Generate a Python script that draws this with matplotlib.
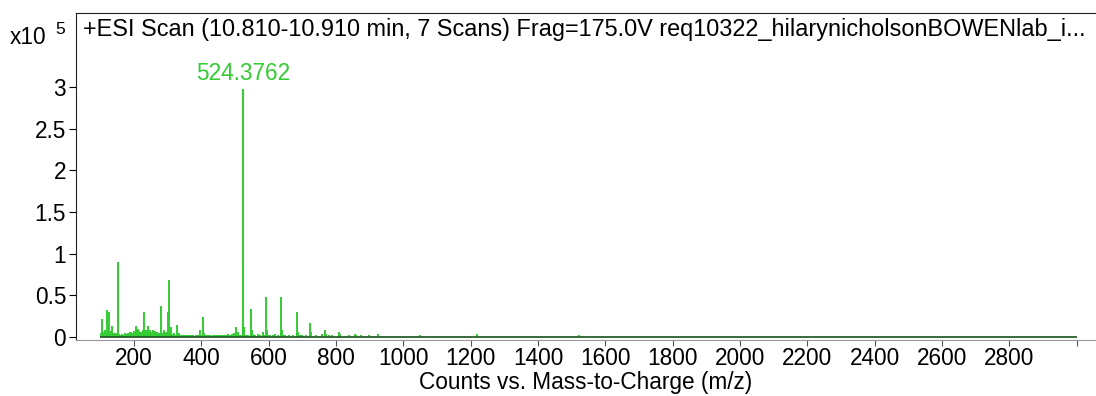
import matplotlib
matplotlib.use("Agg")
import matplotlib.pyplot as plt

plt.rcParams['font.family'] = ['Liberation Sans', 'DejaVu Sans']

# main peaks (m/z, counts x10^5)
peak_mz = [106, 113, 120.6, 125.6, 129, 133.6, 140, 151.4, 155, 175, 188,
           205.8, 212, 218, 229.6, 236, 242.4, 249, 256, 262, 270, 282, 288,
           295, 300, 304.8, 310, 318, 327.6, 335, 396, 403.8, 409, 450, 480,
           496, 503, 508, 524.3762, 525.38, 526.4, 547.4, 550, 554, 570, 582,
           592, 595, 605, 619, 636.5, 640, 650, 660, 683, 687, 700, 723, 727,
           760, 767, 771, 787, 809.6, 812, 838, 856, 860, 874, 899, 925, 1049,
           1219, 1522]
peak_int = [0.22, 0.08, 0.33, 0.30, 0.06, 0.13, 0.05, 0.90, 0.04, 0.05, 0.06,
            0.13, 0.10, 0.06, 0.30, 0.09, 0.13, 0.09, 0.08, 0.07, 0.06, 0.37, 0.08,
            0.06, 0.30, 0.68, 0.12, 0.05, 0.15, 0.05, 0.08, 0.24, 0.05, 0.03, 0.04,
            0.05, 0.12, 0.06, 2.98, 0.86, 0.12, 0.34, 0.09, 0.04, 0.04, 0.06,
            0.48, 0.09, 0.03, 0.04, 0.48, 0.09, 0.03, 0.03, 0.30, 0.06, 0.03, 0.17, 0.06,
            0.04, 0.08, 0.04, 0.02, 0.06, 0.04, 0.02, 0.04, 0.02, 0.02, 0.02, 0.04, 0.02,
            0.04, 0.02]

# low level baseline noise
noise_mz = [101, 104, 109, 116, 123, 131, 137, 144, 147, 158, 162, 166, 170,
            179, 183, 192, 197, 201, 209, 215, 222, 226, 233, 239, 245, 252,
            259, 266, 274, 278, 285, 292, 298, 307, 314, 322, 331, 339, 345,
            352, 358, 364, 370, 377, 383, 390, 400, 413, 420, 427, 434, 441,
            447, 456, 462, 469, 475, 486, 491, 514, 518, 533, 540, 560, 575,
            588, 600, 612, 628, 645, 672, 694, 710, 740, 780]
noise_int = [0.05, 0.07, 0.06, 0.08, 0.05, 0.07, 0.04, 0.03, 0.05, 0.02, 0.03, 0.04, 0.03,
             0.04, 0.05, 0.06, 0.05, 0.07, 0.08, 0.07, 0.06, 0.08, 0.07, 0.06, 0.07, 0.06,
             0.05, 0.06, 0.05, 0.04, 0.05, 0.04, 0.05, 0.04, 0.04, 0.03, 0.04, 0.03, 0.02,
             0.03, 0.02, 0.03, 0.02, 0.03, 0.02, 0.02, 0.03, 0.03, 0.02, 0.02, 0.03, 0.02,
             0.02, 0.03, 0.02, 0.03, 0.02, 0.03, 0.04, 0.02, 0.03, 0.02, 0.03, 0.02, 0.02,
             0.02, 0.02, 0.02, 0.02, 0.02, 0.02, 0.02, 0.02, 0.02, 0.02]

x_ticks = [200, 400, 600, 800, 1000, 1200, 1400, 1600, 1800, 2000, 2200,
           2400, 2600, 2800, 3000]
x_ticklabels = ['200', '400', '600', '800', '1000', '1200', '1400', '1600',
                '1800', '2000', '2200', '2400', '2600', '2800', '']
y_ticks = [0, 0.5, 1, 1.5, 2, 2.5, 3]
y_ticklabels = ['0', '0.5', '1', '1.5', '2', '2.5', '3']

green = '#33cc33'
fs = 16.3

fig = plt.figure(figsize=(10.96, 3.96), dpi=100)
ax = fig.add_axes([0.0693, 0.1414, 0.9307, 0.8258])

ax.vlines(noise_mz, 0, noise_int, color=green, lw=1.4)
ax.vlines(peak_mz, 0, peak_int, color=green, lw=1.4)
ax.plot([100, 3000], [0, 0], color='#2a5e2a', lw=1.3, solid_capstyle='butt')

ax.text(524.3762, 3.02, '524.3762', color=green, fontsize=fs,
        ha='center', va='bottom')

ax.set_xlim(28, 3057)
ax.set_ylim(-0.036, 3.89)
ax.set_xticks(x_ticks)
ax.set_xticklabels(x_ticklabels, fontsize=fs)
ax.set_yticks(y_ticks)
ax.set_yticklabels(y_ticklabels, fontsize=fs)
ax.tick_params(axis='x', length=4, color='#555555', pad=1)
ax.tick_params(axis='y', length=5, pad=2)
ax.spines['right'].set_visible(False)
ax.spines['bottom'].set_color('#999999')
for s in ['left', 'top']:
    ax.spines[s].set_color('#222222')

ax.text(0.007, 0.985, '+ESI Scan (10.810-10.910 min, 7 Scans) Frag=175.0V '
        'req10322_hilarynicholsonBOWENlab_i...', transform=ax.transAxes,
        fontsize=16.9, ha='left', va='top')

ax.set_xlabel('Counts vs. Mass-to-Charge (m/z)', fontsize=fs, labelpad=1)

fig.text(0.009, 0.905, 'x10', fontsize=fs, ha='left', va='center')
fig.text(0.050, 0.925, '5', fontsize=12.5, ha='left', va='center')

fig.savefig('out.png', dpi=100)
